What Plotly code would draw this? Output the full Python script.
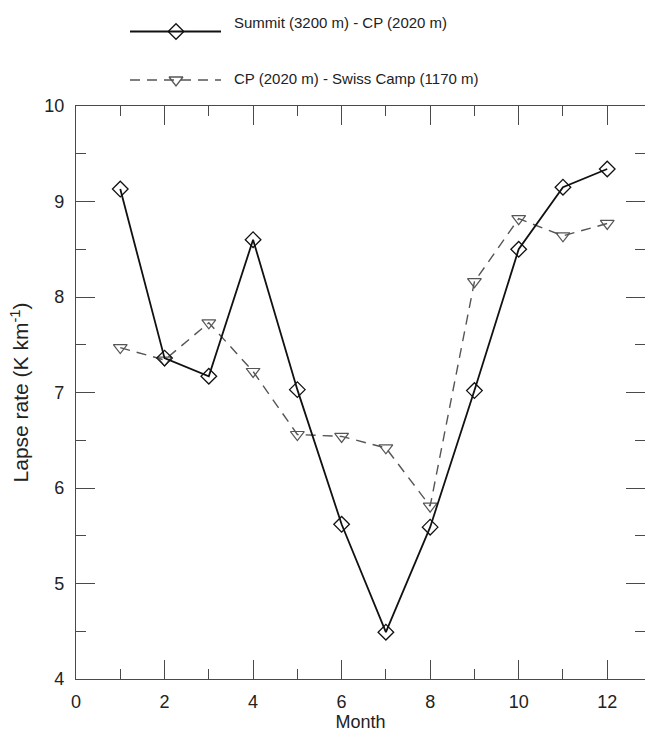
import plotly.graph_objects as go

months = [1, 2, 3, 4, 5, 6, 7, 8, 9, 10, 11, 12]
summit_cp = [9.13, 7.36, 7.17, 8.60, 7.03, 5.62, 4.49, 5.59, 7.02, 8.50, 9.15, 9.34]
cp_swiss = [7.47, 7.34, 7.73, 7.22, 6.56, 6.54, 6.42, 5.81, 8.16, 8.82, 8.64, 8.77]
name_summit = "Summit (3200 m) - CP (2020 m)"
name_swiss = "CP (2020 m) - Swiss Camp (1170 m)"

W, H = 645, 733
ML, MB = 76, 54
PH = H - MB  # plot area height (t=0)
top_px = 106
main_top = (PH - top_px) / PH

FONT = "Liberation Sans, Arial, sans-serif"
AX = "#4a4a4a"
TXT = "#222222"

fig = go.Figure()

fig.add_trace(go.Scatter(
    x=months, y=cp_swiss, mode="lines+markers", name=name_swiss,
    line=dict(color="#555555", width=1.4, dash="10px,7px"),
    marker=dict(symbol="triangle-down-open", size=12, color="#555555", line=dict(width=1.2)),
    xaxis="x", yaxis="y", showlegend=False))
fig.add_trace(go.Scatter(
    x=months, y=summit_cp, mode="lines+markers", name=name_summit,
    line=dict(color="#111111", width=1.8),
    marker=dict(symbol="diamond-open", size=12, color="#111111", line=dict(width=1.3)),
    xaxis="x", yaxis="y", showlegend=False))

# invisible trace for right-side ticks
fig.add_trace(go.Scatter(x=[months[0]], y=[summit_cp[0]], mode="markers",
                         marker=dict(opacity=0), xaxis="x", yaxis="y2",
                         showlegend=False, hoverinfo="skip"))

# manual legend in top area (pixel-unit helper axis)
leg_rows = [(31.5, 22, name_summit, "#111111", "solid", "diamond-open", 1.8),
            (80, 78.5, name_swiss, "#555555", "10px,7px", "triangle-down-open", 1.4)]
for yy, ty, nm, col, dash, sym, lw in leg_rows:
    fig.add_trace(go.Scatter(x=[130 - ML, 221 - ML], y=[yy, yy], mode="lines",
                             line=dict(color=col, width=lw, dash=dash),
                             xaxis="x3", yaxis="y3", showlegend=False, hoverinfo="skip"))
    fig.add_trace(go.Scatter(x=[176 - ML], y=[yy], mode="markers",
                             marker=dict(symbol=sym, size=12, color=col, line=dict(width=1.3)),
                             xaxis="x3", yaxis="y3", showlegend=False, hoverinfo="skip"))
    fig.add_annotation(x=232 - ML, y=ty, xref="x3", yref="y3",
                       text=nm, showarrow=False, xanchor="left", yanchor="middle",
                       font=dict(family=FONT, size=15, color=TXT))

common_tick = dict(ticks="inside", ticklen=19, tickwidth=1.3, tickcolor=AX)

fig.update_layout(
    width=W, height=H,
    margin=dict(l=ML, r=0, t=0, b=MB, pad=0, autoexpand=False),
    paper_bgcolor="white", plot_bgcolor="white",
    font=dict(family=FONT, size=18, color=TXT),
    xaxis=dict(range=[0, (W - ML) / ((651 - 75.5) / 13)], tickmode="array",
               tickvals=[0, 2, 4, 6, 8, 10, 12], showgrid=False, zeroline=False,
               showline=True, linecolor=AX, linewidth=1.3, mirror="ticks",
               minor=dict(ticks="inside", ticklen=10, tickwidth=1.3, tickcolor=AX,
                          tickvals=list(range(1, 13, 2)), showgrid=False),
               title=dict(text="Month", standoff=4, font=dict(size=18)),
               tickfont=dict(size=18), ticklabelstandoff=6, automargin=False,
               anchor="y", domain=[0, 1], **common_tick),
    yaxis=dict(range=[4, 10], tickvals=[4, 5, 6, 7, 8, 9, 10], showgrid=False,
               zeroline=False, showline=True, linecolor=AX, linewidth=1.3, mirror=False,
               minor=dict(ticks="inside", ticklen=10, tickwidth=1.3, tickcolor=AX,
                          dtick=0.5, showgrid=False),
               title=dict(text="Lapse rate (K km<sup>-1</sup>)", standoff=9, font=dict(size=21)),
               tickfont=dict(size=18), ticklabelstandoff=7, automargin=False,
               domain=[0, main_top], anchor="x", **common_tick),
    yaxis2=dict(range=[4, 10], tickvals=[4, 5, 6, 7, 8, 9, 10], overlaying="y", side="right",
                showgrid=False, zeroline=False, showline=False, showticklabels=False,
                minor=dict(ticks="inside", ticklen=10, tickwidth=1.3, tickcolor=AX,
                           dtick=0.5, showgrid=False),
                automargin=False, anchor="x", **common_tick),
    xaxis3=dict(range=[0, W - ML], domain=[0, 1], visible=False, anchor="y3", fixedrange=True),
    yaxis3=dict(range=[top_px, 0], domain=[main_top, 1], visible=False, anchor="x3", fixedrange=True),
    showlegend=False,
)

fig.write_html("out.html")
